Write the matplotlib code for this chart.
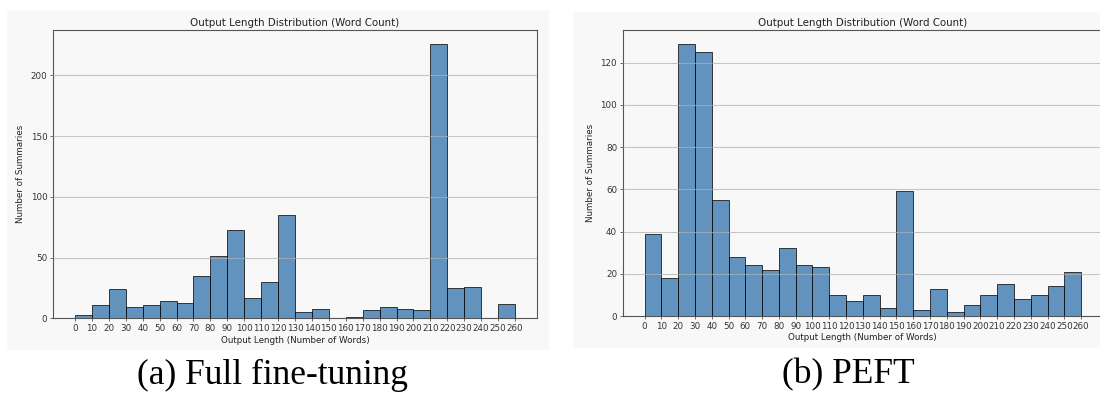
import matplotlib.pyplot as plt
import numpy as np
from matplotlib.patches import Rectangle

# bin edges in words, 10-word bins
edges = np.arange(0, 270, 10)

# (a) full fine-tuning counts per bin
full_ft = [3, 11, 24, 9, 11, 14, 13, 35, 51, 73, 17, 30, 85, 5, 8, 0,
           1, 7, 9, 8, 7, 226, 25, 26, 0, 12]
# (b) PEFT counts per bin
peft = [39, 18, 129, 125, 55, 28, 24, 22, 32, 24, 23, 10, 7, 10, 4, 59,
        3, 13, 2, 5, 10, 15, 8, 10, 14, 21]

captions = ["(a) Full fine-tuning", "(b) PEFT"]
title = "Output Length Distribution (Word Count)"
xlabel = "Output Length (Number of Words)"
ylabel = "Number of Summaries"

W, H = 1100, 394
fig = plt.figure(figsize=(W / 100, H / 100), dpi=100)
fig.patch.set_facecolor("white")

def px(l, t, r, b):
    return [l / W, 1 - b / H, (r - l) / W, (b - t) / H]

bg = "#f8f8f8"
for l, t, r, b in [(7, 11, 549, 350), (573, 12, 1100, 348)]:
    x0, y0, w, h = px(l, t, r, b)
    fig.patches.append(Rectangle((x0, y0), w, h, transform=fig.transFigure,
                                 facecolor=bg, edgecolor="none", zorder=-5))

axes_pos = [px(53, 30, 537, 318.3), px(622.7, 30, 1103, 316)]
datasets = [full_ft, peft]
yticks = [np.arange(0, 201, 50), np.arange(0, 121, 20)]

for pos, data, yt in zip(axes_pos, datasets, yticks):
    ax = fig.add_axes(pos)
    ax.set_facecolor(bg)
    ax.bar(edges[:-1], data, width=10, align="edge", color="#4682b4",
           alpha=0.85, edgecolor="black", linewidth=0.6, zorder=2)
    ax.set_xlim(-13, 273)
    ax.set_ylim(0, max(data) * 1.05)
    ax.set_xticks(edges)
    ax.set_yticks(yt)
    ax.grid(axis="y", color="#b0b0b0", linewidth=0.8, alpha=0.7, zorder=3)
    ax.set_axisbelow(False)
    ax.tick_params(labelsize=6.3, length=2, width=0.5, pad=2,
                   colors="#333333")
    for s in ax.spines.values():
        s.set_color("#555555")
        s.set_linewidth(0.8)
    ax.set_title(title, fontsize=7.4, pad=3, color="#222222")
    ax.set_xlabel(xlabel, fontsize=6.3, labelpad=2, color="#222222")
    ax.set_ylabel(ylabel, fontsize=6.3, labelpad=4, color="#222222")

fig.text(272 / W, 0.048, captions[0], ha="center", va="center",
         fontsize=25.5, family="Liberation Serif")
fig.text(848 / W, 0.048, captions[1], ha="center", va="center",
         fontsize=25.5, family="Liberation Serif")

fig.savefig("out.png", dpi=100)
